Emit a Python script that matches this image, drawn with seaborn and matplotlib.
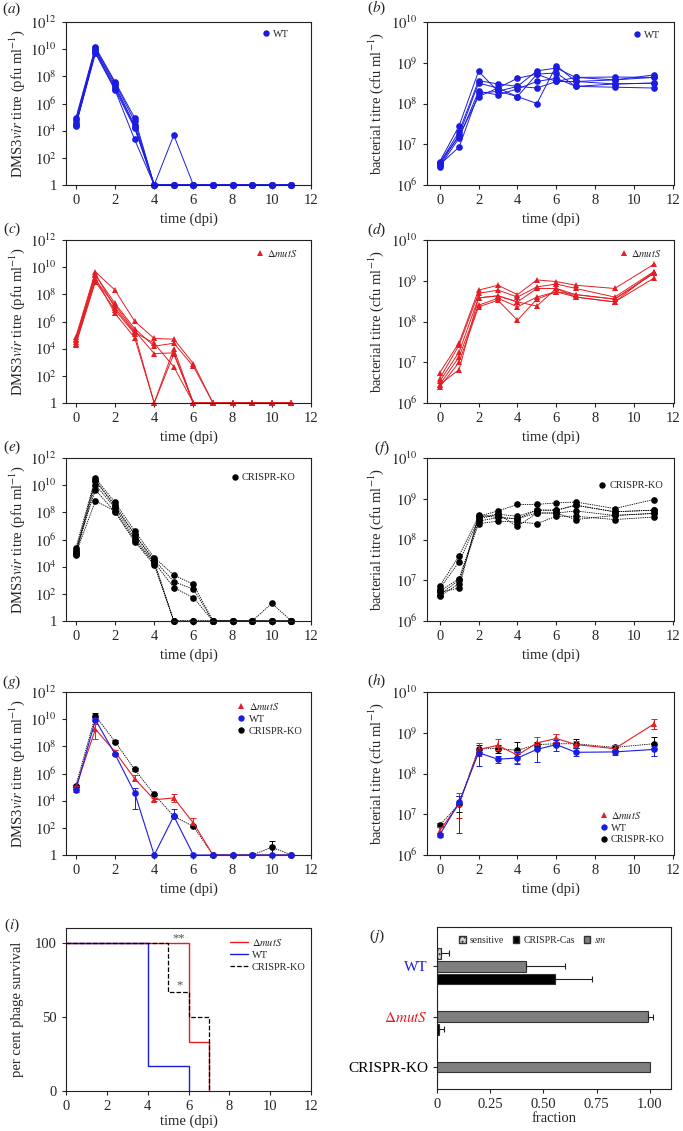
import numpy as np
import pandas as pd
import matplotlib
matplotlib.use("Agg")
import matplotlib.pyplot as plt
import seaborn as sns
from matplotlib.lines import Line2D
from matplotlib.patches import Patch
from matplotlib.ticker import FixedLocator, NullLocator, FuncFormatter

# ---------------- data (log10 titres; 0 = below detection, drawn at 1) -------------
PHAGE_DAYS = [0, 1, 2, 3, 4, 5, 6, 7, 8, 9, 10, 11]
BACT_DAYS = [0, 1, 2, 3, 4, 5, 6, 7, 9, 11]

WT_PHAGE = [
    [4.90, 10.15, 7.60, 4.95, 0, 0, 0, 0, 0, 0, 0, 0],
    [4.80, 10.05, 7.50, 4.70, 0, 3.67, 0, 0, 0, 0, 0, 0],
    [4.60, 9.95, 7.35, 4.40, 0, 0, 0, 0, 0, 0, 0, 0],
    [4.45, 9.85, 7.20, 4.30, 0, 0, 0, 0, 0, 0, 0, 0],
    [4.40, 9.75, 7.05, 4.20, 0, 0, 0, 0, 0, 0, 0, 0],
    [4.35, 9.70, 7.00, 3.35, 0, 0, 0, 0, 0, 0, 0, 0],
]
WT_BACT = [
    [6.57, 7.45, 8.79, 8.30, 8.17, 8.00, 8.93, 8.54, 8.58, 8.70],
    [6.53, 7.31, 8.56, 8.48, 8.42, 8.80, 8.87, 8.64, 8.65, 8.64],
    [6.49, 7.23, 8.50, 8.38, 8.62, 8.72, 8.75, 8.42, 8.48, 8.50],
    [6.45, 7.15, 8.30, 8.21, 8.36, 8.54, 8.62, 8.42, 8.40, 8.38],
    [6.50, 6.93, 8.25, 8.30, 8.42, 8.38, 8.54, 8.54, 8.48, 8.50],
    [6.55, 7.20, 8.17, 8.38, 8.17, 8.72, 8.54, 8.64, 8.58, 8.64],
]
MUTS_PHAGE = [
    [4.87, 9.66, 8.31, 6.02, 4.75, 4.70, 2.90, 0, 0, 0, 0, 0],
    [4.62, 9.42, 7.33, 5.48, 4.18, 4.40, 2.70, 0, 0, 0, 0, 0],
    [4.38, 9.05, 7.20, 5.31, 3.64, 3.69, 0, 0, 0, 0, 0, 0],
    [4.30, 8.93, 6.84, 5.11, 0, 4.00, 0, 0, 0, 0, 0, 0],
    [4.50, 9.20, 6.59, 4.82, 0, 3.60, 0, 0, 0, 0, 0, 0],
    [4.70, 9.50, 7.00, 5.20, 4.40, 2.66, 0, 0, 0, 0, 0, 0],
]
MUTS_BACT = [
    [6.74, 7.48, 8.77, 8.89, 8.66, 9.02, 8.98, 8.89, 8.81, 9.40],
    [6.60, 7.42, 8.69, 8.77, 8.60, 8.85, 8.92, 8.81, 8.60, 9.22],
    [6.53, 7.25, 8.58, 8.63, 8.48, 8.81, 8.81, 8.66, 8.55, 9.18],
    [6.45, 7.13, 8.40, 8.57, 8.36, 8.60, 8.73, 8.60, 8.48, 9.06],
    [6.39, 7.00, 8.36, 8.52, 8.03, 8.55, 8.73, 8.66, 8.55, 9.18],
    [6.45, 6.82, 8.58, 8.63, 8.48, 8.38, 8.81, 8.60, 8.48, 9.22],
]
KO_PHAGE = [
    [5.36, 10.52, 8.73, 6.64, 4.67, 3.39, 2.70, 0, 0, 0, 0, 0],
    [5.11, 10.28, 8.56, 6.34, 4.50, 2.90, 2.34, 0, 0, 0, 1.30, 0],
    [4.87, 10.03, 8.31, 6.10, 4.33, 2.46, 1.72, 0, 0, 0, 0, 0],
    [5.20, 9.66, 8.02, 5.85, 4.13, 0, 0, 0, 0, 0, 0, 0],
    [5.00, 10.40, 8.40, 6.40, 4.40, 0, 0, 0, 0, 0, 0, 0],
    [4.95, 8.85, 8.10, 5.95, 4.25, 0, 0, 0, 0, 0, 0, 0],
]
KO_BACT = [
    [6.85, 7.60, 8.57, 8.70, 8.86, 8.86, 8.90, 8.92, 8.76, 8.98],
    [6.79, 7.45, 8.50, 8.62, 8.57, 8.72, 8.72, 8.84, 8.68, 8.72],
    [6.73, 7.04, 8.45, 8.54, 8.51, 8.65, 8.65, 8.70, 8.59, 8.64],
    [6.65, 7.00, 8.39, 8.45, 8.43, 8.39, 8.57, 8.57, 8.49, 8.55],
    [6.61, 6.92, 8.55, 8.62, 8.32, 8.65, 8.65, 8.49, 8.59, 8.64],
    [6.70, 6.81, 8.60, 8.54, 8.51, 8.72, 8.72, 8.84, 8.68, 8.72],
]

# panel (g): means with log10 error extents
G_MUTS = [5.00, 9.26, 7.60, 5.63, 4.07, 4.20, 2.35, 0, 0, 0, 0, 0]
G_MUTS_UP = [0.10, 0.40, 0.15, 0.25, 0.10, 0.32, 0.40, 0, 0, 0, 0, 0]
G_MUTS_DN = [0.10, 0.70, 0.15, 0.15, 0.10, 0.30, 0.15, 0, 0, 0, 0, 0]
G_WT = [4.77, 9.95, 7.43, 4.59, 0, 2.86, 0, 0, 0, 0, 0, 0]
G_WT_UP = [0.10, 0.10, 0.10, 0.35, 0, 0.55, 0, 0, 0, 0, 0, 0]
G_WT_DN = [0.10, 0.10, 0.10, 1.18, 0, 0.05, 0, 0, 0, 0, 0, 0]
G_KO = [5.09, 10.25, 8.35, 6.30, 4.47, 2.85, 2.10, 0, 0, 0, 0.57, 0]
G_KO_UP = [0.05, 0.20, 0.12, 0.14, 0.05, 0.05, 0.05, 0, 0, 0, 0.45, 0]
G_KO_DN = [0.05, 0.10, 0.10, 0.10, 0.05, 0.05, 0.05, 0, 0, 0, 0.57, 0]

# panel (h)
H_MUTS = [6.60, 7.25, 8.59, 8.69, 8.45, 8.75, 8.86, 8.71, 8.61, 9.21]
H_MUTS_UP = [0.08, 0.26, 0.15, 0.15, 0.10, 0.15, 0.10, 0.08, 0.10, 0.13]
H_MUTS_DN = [0.08, 0.33, 0.15, 0.12, 0.20, 0.15, 0.08, 0.08, 0.05, 0.12]
H_WT = [6.49, 7.29, 8.51, 8.35, 8.38, 8.59, 8.71, 8.52, 8.53, 8.59]
H_WT_UP = [0.05, 0.15, 0.10, 0.07, 0.15, 0.15, 0.12, 0.10, 0.05, 0.08]
H_WT_DN = [0.05, 0.74, 0.32, 0.10, 0.15, 0.32, 0.15, 0.10, 0.08, 0.15]
H_KO = [6.73, 7.25, 8.61, 8.61, 8.57, 8.71, 8.73, 8.73, 8.64, 8.73]
H_KO_UP = [0.05, 0.20, 0.08, 0.10, 0.20, 0.07, 0.05, 0.12, 0.07, 0.17]
H_KO_DN = [0.05, 0.20, 0.08, 0.10, 0.10, 0.07, 0.05, 0.10, 0.07, 0.10]

# panel (i): survival
SURV_MUTS_T = [0, 6, 7]
SURV_MUTS = [100, 33.3, 0]
SURV_WT_T = [0, 4, 6]
SURV_WT = [100, 16.7, 0]
SURV_KO_T = [0, 5, 6, 7]
SURV_KO = [100, 66.7, 50, 0]

# panel (j): resistance fractions
GROUPS = ["WT", "mutS", "CRISPR-KO"]
RES_TYPES = ["sensitive", "sm", "CRISPR-Cas"]
SENSITIVE = [0.02, 0.0, 0.0]
SENSITIVE_ERR = [0.035, 0.0, 0.0]
SM = [0.42, 0.99, 1.0]
SM_ERR = [0.18, 0.025, 0.0]
CRISPR_CAS = [0.555, 0.01, 0.0]
CRISPR_CAS_ERR = [0.175, 0.025, 0.0]

# ---------------- style ----------------
BLUE = "#1c1ce0"
RED = "#e41e24"
BLACK = "#000000"
KO_DASH = (0, (1.6, 1.1))
MUTS_LABEL = r"$\Delta\mathit{mutS}$"

sns.set_theme(style="ticks")
plt.rcParams.update({
    "font.family": ["Liberation Serif", "DejaVu Serif"],
    "mathtext.fontset": "stix",
    "axes.linewidth": 0.8,
    "axes.edgecolor": "#222222",
    "xtick.labelsize": 10.5,
    "ytick.labelsize": 10.5,
    "axes.labelsize": 10.5,
    "xtick.major.size": 3,
    "ytick.major.size": 3,
    "xtick.major.width": 0.8,
    "ytick.major.width": 0.8,
    "xtick.direction": "out",
    "ytick.direction": "out",
    "legend.fontsize": 7.5,
})

W, H = 683, 1131
fig = plt.figure(figsize=(W / 100, H / 100), dpi=100)


def ax_at(x0, y0, x1, y1):
    return fig.add_axes([x0 / W, 1 - y1 / H, (x1 - x0) / W, (y1 - y0) / H])


def log_fmt(v, pos):
    e = int(round(np.log10(v)))
    return "1" if e == 0 else r"$10^{%d}$" % e


def setup_phage(ax):
    ax.set_yscale("log")
    ax.set_ylim(1, 1e12)
    ax.yaxis.set_major_locator(FixedLocator([10.0 ** e for e in range(0, 13, 2)]))
    ax.yaxis.set_minor_locator(NullLocator())
    ax.yaxis.set_major_formatter(FuncFormatter(log_fmt))
    ax.set_xlim(-0.5, 12)
    ax.set_xticks(range(0, 13, 2))
    ax.set_xlabel("time (dpi)")
    ax.set_ylabel(r"DMS3$\mathit{vir}$ titre (pfu ml$^{-1}$)", labelpad=2)


def setup_bact(ax):
    ax.set_yscale("log")
    ax.set_ylim(1e6, 1e10)
    ax.yaxis.set_major_locator(FixedLocator([10.0 ** e for e in range(6, 11)]))
    ax.yaxis.set_minor_locator(NullLocator())
    ax.yaxis.set_major_formatter(FuncFormatter(log_fmt))
    ax.set_xlim(-0.65, 12.05)
    ax.set_xticks(range(0, 13, 2))
    ax.set_xlabel("time (dpi)")
    ax.set_ylabel(r"bacterial titre (cfu ml$^{-1}$)", labelpad=4)


def replicates(ax, days, reps, color, marker, ls="-", lw=0.7):
    df = pd.DataFrame(
        [(d, i, 10.0 ** v) for i, r in enumerate(reps) for d, v in zip(days, r)],
        columns=["day", "rep", "titre"])
    sns.lineplot(data=df, x="day", y="titre", units="rep", estimator=None,
                 color=color, marker=marker, markersize=4.8, markeredgewidth=0,
                 linewidth=lw, linestyle=ls, ax=ax, legend=False, clip_on=False,
                 sort=False)


def means(ax, days, vals, up, dn, color, marker, ls="-", lw=0.8, z=2):
    v = np.array(vals, float)
    y = 10.0 ** v
    lo = y - 10.0 ** (v - np.array(dn))
    hi = 10.0 ** (v + np.array(up)) - y
    df = pd.DataFrame({"day": days, "titre": y})
    ax.errorbar(df["day"], df["titre"], yerr=[lo, hi], fmt="none", ecolor=color,
                elinewidth=0.7, capsize=2.5, capthick=0.7, zorder=z, clip_on=False)
    sns.lineplot(data=df, x="day", y="titre", color=color, marker=marker,
                 markersize=4.8, markeredgewidth=0, linewidth=lw, linestyle=ls,
                 ax=ax, legend=False, clip_on=False, zorder=z + 0.5)


def marker_handle(color, marker, label):
    return Line2D([], [], color=color, marker=marker, linestyle="none",
                  markersize=4.6, markeredgewidth=0, label=label)


def single_legend(ax, color, marker, label, x, y):
    ax.legend(handles=[marker_handle(color, marker, label)], loc="center",
              bbox_to_anchor=(x, y), frameon=False, handletextpad=0.1,
              borderpad=0, handlelength=1.2)


def panel_label(letter, x, y):
    fig.text(x / W, 1 - y / H, r"($\mathit{%s}$)" % letter, fontsize=11,
             ha="center", va="center")


LX0, LX1 = 66, 311
RX0, RX1 = 427, 674
ROWS = [(22, 185), (240, 403), (458, 621), (692, 855)]

# (a)
ax = ax_at(LX0, ROWS[0][0], LX1, ROWS[0][1])
replicates(ax, PHAGE_DAYS, WT_PHAGE, BLUE, "o")
setup_phage(ax)
single_legend(ax, BLUE, "o", "WT", 0.85, 0.925)
# (b)
ax = ax_at(RX0, ROWS[0][0], RX1, ROWS[0][1])
replicates(ax, BACT_DAYS, WT_BACT, BLUE, "o")
setup_bact(ax)
single_legend(ax, BLUE, "o", "WT", 0.885, 0.92)
# (c)
ax = ax_at(LX0, ROWS[1][0], LX1, ROWS[1][1])
replicates(ax, PHAGE_DAYS, MUTS_PHAGE, RED, "^")
setup_phage(ax)
single_legend(ax, RED, "^", MUTS_LABEL, 0.855, 0.92)
# (d)
ax = ax_at(RX0, ROWS[1][0], RX1, ROWS[1][1])
replicates(ax, BACT_DAYS, MUTS_BACT, RED, "^")
setup_bact(ax)
single_legend(ax, RED, "^", MUTS_LABEL, 0.86, 0.92)
# (e)
ax = ax_at(LX0, ROWS[2][0], LX1, ROWS[2][1])
replicates(ax, PHAGE_DAYS, KO_PHAGE, BLACK, "o", ls=KO_DASH, lw=0.6)
setup_phage(ax)
single_legend(ax, BLACK, "o", "CRISPR-KO", 0.8, 0.88)
# (f)
ax = ax_at(RX0, ROWS[2][0], RX1, ROWS[2][1])
replicates(ax, BACT_DAYS, KO_BACT, BLACK, "o", ls=KO_DASH, lw=0.6)
setup_bact(ax)
single_legend(ax, BLACK, "o", "CRISPR-KO", 0.82, 0.83)
# (g)
ax = ax_at(LX0, ROWS[3][0], LX1, ROWS[3][1])
means(ax, PHAGE_DAYS, G_KO, G_KO_UP, G_KO_DN, BLACK, "o", ls=KO_DASH, lw=0.6, z=2)
means(ax, PHAGE_DAYS, G_MUTS, G_MUTS_UP, G_MUTS_DN, RED, "^", z=3)
means(ax, PHAGE_DAYS, G_WT, G_WT_UP, G_WT_DN, BLUE, "o", z=4)
setup_phage(ax)
ax.legend(handles=[marker_handle(RED, "^", MUTS_LABEL), marker_handle(BLUE, "o", "WT"),
                   marker_handle(BLACK, "o", "CRISPR-KO")],
          loc="upper left", bbox_to_anchor=(0.66, 0.99), frameon=False,
          handletextpad=0.1, borderpad=0.2, labelspacing=0.25, handlelength=1.2)
# (h)
ax = ax_at(RX0, ROWS[3][0], RX1, ROWS[3][1])
means(ax, BACT_DAYS, H_KO, H_KO_UP, H_KO_DN, BLACK, "o", ls=KO_DASH, lw=0.6, z=2)
means(ax, BACT_DAYS, H_MUTS, H_MUTS_UP, H_MUTS_DN, RED, "^", z=3)
means(ax, BACT_DAYS, H_WT, H_WT_UP, H_WT_DN, BLUE, "o", z=4)
setup_bact(ax)
ax.legend(handles=[marker_handle(RED, "^", MUTS_LABEL), marker_handle(BLUE, "o", "WT"),
                   marker_handle(BLACK, "o", "CRISPR-KO")],
          loc="lower left", bbox_to_anchor=(0.66, 0.02), frameon=False,
          handletextpad=0.1, borderpad=0.2, labelspacing=0.25, handlelength=1.2)

# (i) survival
ax = ax_at(LX0, 928, LX1, 1091)
sns.lineplot(x=SURV_MUTS_T, y=SURV_MUTS, drawstyle="steps-post", color=RED,
             linewidth=1.0, ax=ax, label=MUTS_LABEL)
sns.lineplot(x=SURV_WT_T, y=SURV_WT, drawstyle="steps-post", color=BLUE,
             linewidth=1.0, ax=ax, label="WT")
sns.lineplot(x=SURV_KO_T, y=SURV_KO, drawstyle="steps-post", color=BLACK,
             linewidth=0.9, linestyle="--", ax=ax, label="CRISPR-KO")
for ln in ax.get_lines():
    ln.set_clip_on(False)
ax.set_xlim(0, 12)
ax.set_ylim(0, 110)
ax.set_xticks(range(0, 13, 2))
ax.set_yticks([0, 50, 100])
ax.set_xlabel("time (dpi)", labelpad=1)
ax.set_ylabel("per cent phage survival", labelpad=8)
ax.text(5.5, 103, "**", ha="center", va="center", fontsize=9, color="#555555")
ax.text(5.55, 71, "*", ha="center", va="center", fontsize=9, color="#555555")
ax.legend(loc="upper left", bbox_to_anchor=(0.64, 0.99), frameon=False,
          handlelength=1.7, handletextpad=0.4, labelspacing=0.25, borderpad=0.2)

# (j) bars
ax = ax_at(437, 927, 671, 1089)
dfj = pd.DataFrame({
    "group": GROUPS * 3,
    "type": [t for t in RES_TYPES for _ in GROUPS],
    "fraction": SENSITIVE + SM + CRISPR_CAS,
    "err": SENSITIVE_ERR + SM_ERR + CRISPR_CAS_ERR,
})
pal = {"sensitive": "#d9d9d9", "sm": "#7f7f7f", "CRISPR-Cas": "#000000"}
sns.barplot(data=dfj, y="group", x="fraction", hue="type", order=GROUPS,
            hue_order=RES_TYPES, orient="h", palette=pal, width=0.76, gap=0.16,
            edgecolor="#333333", linewidth=0.8, errorbar=None, legend=False,
            saturation=1, ax=ax)
for cont, t in zip(ax.containers, RES_TYPES):
    sub = dfj[dfj["type"] == t].set_index("group").loc[GROUPS]
    for rect, val, err in zip(cont.patches, sub["fraction"], sub["err"]):
        if t == "sensitive":
            rect.set_hatch("....")
        if err > 0:
            yc = rect.get_y() + rect.get_height() / 2
            ax.errorbar([val], [yc], xerr=[[0], [err]], fmt="none", ecolor="#222222",
                        elinewidth=0.8, capsize=2.5, capthick=0.8)
ax.set_xlim(0, 1.1)
ax.set_ylim(2.44, -0.78)
ax.set_xticks([0, 0.25, 0.5, 0.75, 1.0])
ax.set_xticklabels(["0", "0.25", "0.50", "0.75", "1.00"])
ax.set_xlabel("fraction", labelpad=1)
ax.set_ylabel("")
ax.set_yticks([0, 1, 2])
ax.set_yticklabels(["WT", MUTS_LABEL, "CRISPR-KO"], fontsize=11)
for lab, col in zip(ax.get_yticklabels(), [BLUE, RED, BLACK]):
    lab.set_color(col)
handles = [Patch(facecolor=pal["sensitive"], edgecolor="#333333", hatch="....", label="sensitive"),
           Patch(facecolor=pal["CRISPR-Cas"], edgecolor="#333333", label="CRISPR-Cas"),
           Patch(facecolor=pal["sm"], edgecolor="#333333", label=r"$\mathit{sm}$")]
ax.legend(handles=handles, loc="center", bbox_to_anchor=(0.41, 0.915), ncol=3,
          frameon=False, fontsize=7, handlelength=0.7, handleheight=0.7,
          handletextpad=0.4, columnspacing=0.9, borderpad=0)

# panel letters
for letter, x, y in [("a", 12, 9), ("b", 377, 8), ("c", 12, 229), ("d", 377, 230),
                     ("e", 12, 447), ("f", 382, 448), ("g", 12, 682), ("h", 377, 681),
                     ("i", 12, 925), ("j", 377, 936)]:
    panel_label(letter, x, y)

fig.savefig("out.png", dpi=100)
